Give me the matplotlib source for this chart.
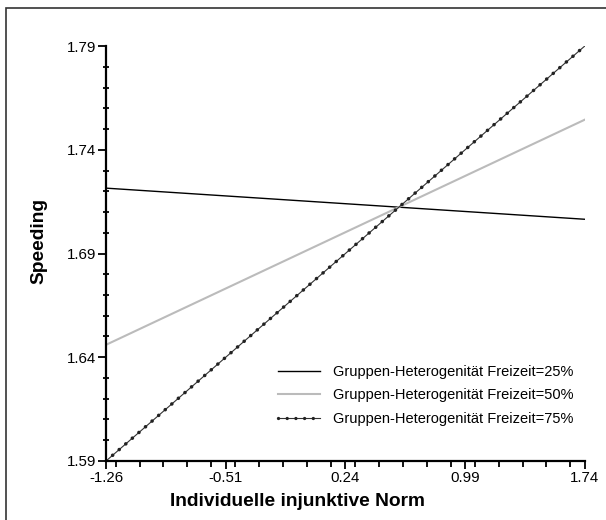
import matplotlib.pyplot as plt
import matplotlib.lines as mlines
from matplotlib.ticker import MultipleLocator
from matplotlib.patches import Rectangle

plt.rcParams['font.family'] = ['Liberation Sans', 'DejaVu Sans']

# Endpunkte der drei Geraden (x von -1.26 bis 1.74)
x_vals = [-1.26, 1.74]
y_25 = [1.7215, 1.7065]
y_50 = [1.6460, 1.7545]
y_75 = [1.5900, 1.7900]
labels = ['Gruppen-Heterogenität Freizeit=25%',
          'Gruppen-Heterogenität Freizeit=50%',
          'Gruppen-Heterogenität Freizeit=75%']
x_ticks = [-1.26, -0.51, 0.24, 0.99, 1.74]
y_ticks = [1.59, 1.64, 1.69, 1.74, 1.79]

fig = plt.figure(figsize=(6.06, 5.2), dpi=100)
ax = fig.add_axes([0.175, 0.1135, 0.79, 0.798])

# Rahmen um die ganze Grafik
fig.patches.append(Rectangle((6 / 606, -0.1), 1.2, 1 - 8 / 520 + 0.1,
                             transform=fig.transFigure, fill=False,
                             edgecolor='#333333', linewidth=1.2))

h25, = ax.plot(x_vals, y_25, color='black', lw=1.0)
h50, = ax.plot(x_vals, y_50, color='#bbbbbb', lw=1.5)
ax.plot(x_vals, y_75, color='#333333', lw=0.8)
# Punkte entlang der Linie
ax.plot(x_vals, y_75, color='#222222', lw=2.6,
        linestyle=(0, (0.01, 2.4)), dash_capstyle='round')

# Legenden-Eintrag fuer die gepunktete Linie: duenne Linie + Punkte
h75a = mlines.Line2D([], [], color='#333333', lw=0.8)
h75b = mlines.Line2D([], [], color='#222222', lw=2.4,
                     linestyle=(0, (0.01, 2.6)), dash_capstyle='round')

ax.set_xlim(-1.26, 1.74)
ax.set_ylim(1.59, 1.79)
ax.set_xticks(x_ticks)
ax.set_yticks(y_ticks)
ax.set_xticklabels([f'{v:.2f}' for v in x_ticks])
ax.set_yticklabels([f'{v:.2f}' for v in y_ticks])
ax.xaxis.set_minor_locator(MultipleLocator(0.15))
ax.yaxis.set_minor_locator(MultipleLocator(0.01))

for s in ['top', 'right']:
    ax.spines[s].set_visible(False)
for s in ['left', 'bottom']:
    ax.spines[s].set_linewidth(1.6)
    ax.spines[s].set_color('black')

ax.tick_params(which='major', direction='out', length=6, width=1.3,
               labelsize=10.8, pad=1)
ax.tick_params(axis='y', which='minor', direction='inout', length=5, width=1.3)
ax.tick_params(axis='x', which='minor', direction='out', length=4, width=1.3)

ax.set_xlabel('Individuelle injunktive Norm', fontsize=13.8, fontweight='bold')
ax.set_ylabel('Speeding', fontsize=13.8, fontweight='bold')
ax.xaxis.set_label_coords(0.40, -0.097)
ax.yaxis.set_label_coords(-0.14, 0.53)
ax.xaxis.label.set_va('center')
ax.yaxis.label.set_va('center')

ax.legend(handles=[h25, h50, (h75a, h75b)], labels=labels, loc='upper left',
          bbox_to_anchor=(0.359, 0.232), frameon=False, fontsize=10.5,
          borderpad=0, borderaxespad=0, handlelength=2.9,
          handletextpad=0.9, labelspacing=0.65)

plt.savefig('out.png', dpi=100)
